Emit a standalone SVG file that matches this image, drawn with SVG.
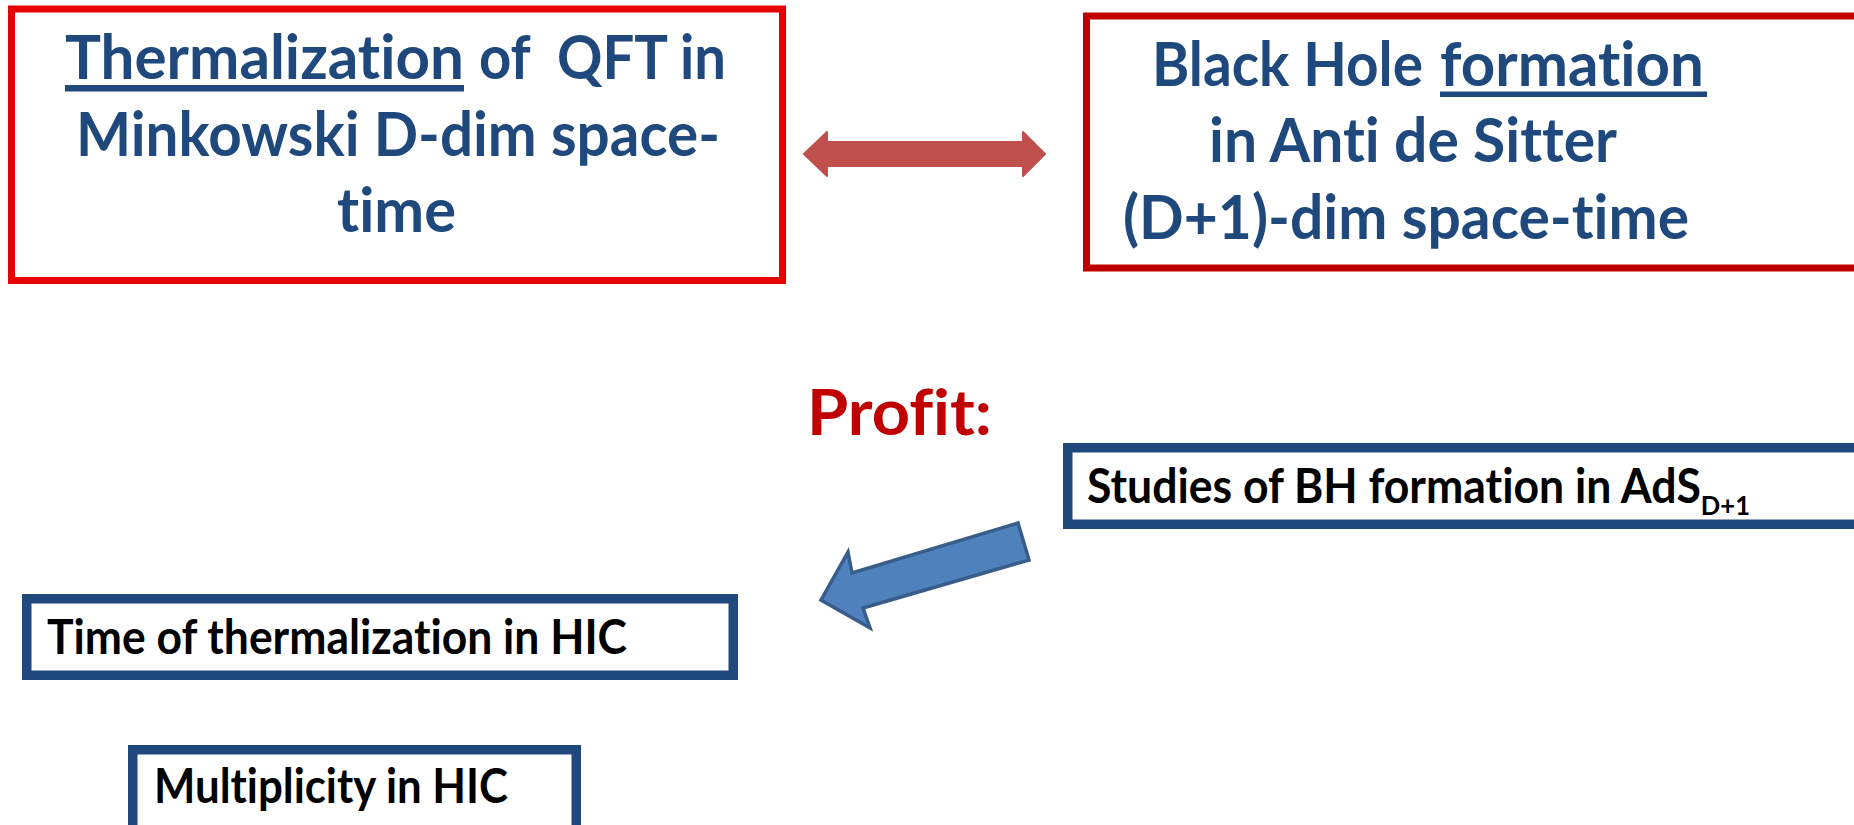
<svg xmlns="http://www.w3.org/2000/svg" width="1854" height="825" viewBox="0 0 1854 825">
<style>
text{font-variant-ligatures:none;font-feature-settings:"liga" 0,"clig" 0}
.big{font-family:Lato,"Open Sans","Liberation Sans",sans-serif;font-weight:bold;font-size:61px;fill:#1f497d;white-space:pre}
.small{font-family:Lato,"Open Sans","Liberation Sans",sans-serif;font-weight:bold;font-size:47px;fill:#000;white-space:pre}
.sub{font-size:27px}
.profit{font-family:Lato,"Open Sans","Liberation Sans",sans-serif;font-weight:bold;font-size:64px;fill:#c00000}
.bluebox{fill:#fff;stroke:#1f497d;stroke-width:9.5}
</style>
<rect width="1854" height="825" fill="#fff"/>
<g id="box-thermalization">
<rect x="11.5" y="9" width="771" height="271.5" fill="#fff" stroke="#e60000" stroke-width="7"/>
<text class="big" x="65" y="79" textLength="399" lengthAdjust="spacingAndGlyphs">Thermalization</text>
<rect x="65" y="85" width="399" height="6.5" fill="#1f497d"/>
<text class="big" x="479" y="79" textLength="247" lengthAdjust="spacingAndGlyphs">of  QFT in</text>
<text class="big" x="76" y="156" textLength="644" lengthAdjust="spacingAndGlyphs">Minkowski D-dim space-</text>
<text class="big" x="337" y="232" textLength="119" lengthAdjust="spacingAndGlyphs">time</text>
</g>
<g id="box-blackhole">
<rect x="1086.5" y="16" width="800" height="252" fill="#fff" stroke="#c00000" stroke-width="7"/>
<text class="big" x="1152" y="86" textLength="271" lengthAdjust="spacingAndGlyphs">Black Hole</text>
<text class="big" x="1440" y="86" textLength="264" lengthAdjust="spacingAndGlyphs">formation</text>
<rect x="1440" y="91.5" width="267" height="5.5" fill="#1f497d"/>
<text class="big" x="1209" y="162" textLength="408" lengthAdjust="spacingAndGlyphs">in Anti de Sitter</text>
<text class="big" x="1123" y="239" textLength="566" lengthAdjust="spacingAndGlyphs">(D+1)-dim space-time</text>
</g>
<g id="profit-label">
<text class="profit" x="807" y="435" textLength="185" lengthAdjust="spacingAndGlyphs">Profit:</text>
</g>
<g id="box-studies">
<rect class="bluebox" x="1067.75" y="447.75" width="820" height="76.5"/>
<text class="small" x="1087" y="503" textLength="663" lengthAdjust="spacingAndGlyphs">Studies of BH formation in AdS<tspan class="sub" dy="12">D+1</tspan></text>
</g>
<g id="box-time">
<rect class="bluebox" x="26.75" y="598.75" width="706.5" height="76.5"/>
<text class="small" x="47" y="654" textLength="580" lengthAdjust="spacingAndGlyphs">Time of thermalization in HIC</text>
</g>
<g id="box-multiplicity">
<rect class="bluebox" x="132.75" y="749.75" width="443.5" height="100"/>
<text class="small" x="154" y="803" textLength="354" lengthAdjust="spacingAndGlyphs">Multiplicity in HIC</text>
</g>
<g id="connectors">
<path d="M804,154 L827,132 L827,142 L1023,142 L1023,132 L1045,154 L1023,176 L1023,166 L827,166 L827,176 Z" fill="#c0504d" stroke="#c0504d" stroke-width="2" stroke-linejoin="round"/>
<path d="M821,600 L848,552 L852,573 L1018,523 L1029,560 L863,608 L870,628 Z" fill="#4f81bd" stroke="#385d8a" stroke-width="3.5" stroke-linejoin="miter"/>
</g>
</svg>
